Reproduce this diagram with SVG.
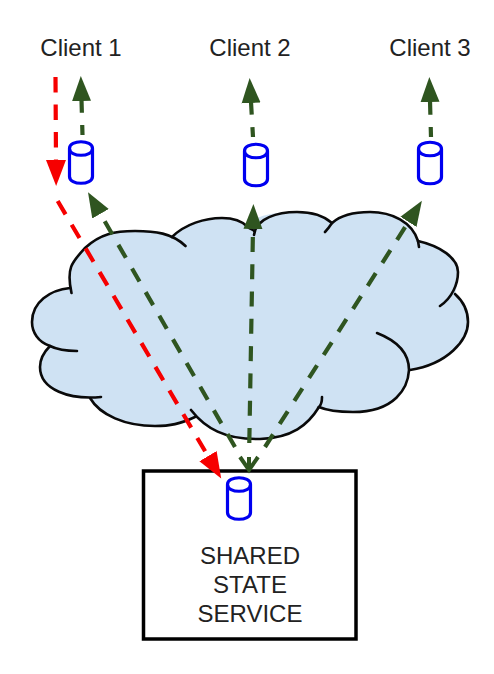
<svg xmlns="http://www.w3.org/2000/svg" width="494" height="674" viewBox="0 0 494 674">
<style>
text{font-family:"Liberation Sans",Arial,sans-serif;font-size:24px;fill:#222;text-anchor:middle}
.lobe{fill:none;stroke:#0a0a0a;stroke-width:2.6;stroke-linecap:round}
.cyl{fill:#fff;stroke:#0000f0;stroke-width:3.2}
.g{fill:none;stroke:#2f5520;stroke-width:4.2;stroke-dasharray:15 12.300}
.r{fill:none;stroke:#f60000;stroke-width:4.2;stroke-dasharray:15.500 12}
</style>
<defs>
<marker id="gh" markerUnits="userSpaceOnUse" markerWidth="30" markerHeight="24" refX="1" refY="12" orient="auto"><path d="M0 2.500L25 12L0 21.500Z" fill="#2f5520"/></marker>
<marker id="rh" markerUnits="userSpaceOnUse" markerWidth="30" markerHeight="24" refX="1" refY="12" orient="auto"><path d="M0 2L26 12L0 22Z" fill="#f60000"/></marker>
<path id="can" d="M-11.500 -14V14C-11.500 23 11.500 23 11.500 14V-14M-11.500 -14C-11.500 -23 11.500 -23 11.500 -14C11.500 -5 -11.500 -5 -11.500 -14Z"/>
</defs>
<g id="cloud">
<path fill="#cfe2f3" d="M70 288C68 268 72 262 85 248C100 234 115 231 135 231C150 231 162 232 172 237C185 224 205 218 222 218C232 218 240 220 247 226C256 214 278 212 297 212C312 212 324 216 332 223C342 214 356 212 370 212C392 212 412 222 418 241C440 246 458 258 458 272C458 284 456 290 455 294C464 302 468 310 468 322C468 340 448 364 410 370C408 388 395 412 353 412C338 412 328 411 319 407C308 425 292 438 260 439C225 440 205 428 195 417C180 424 170 426 155 426C125 426 100 415 90 398C70 400 40 390 40 367C40 358 44 352 50 346C38 342 32 332 32 322C32 302 50 290 70 288Z"/>
<path class="lobe" d="M71.500 293C66 268 72 262 85 248C100 234 115 231 135 231C155 231 172 233 185.500 246"/>
<path class="lobe" d="M172 237C185 224 205 218 222 218C234 218 242 221 248 227C250 229 254 230 254 231"/>
<path class="lobe" d="M254 235C256 218 278 212 297 212C312 212 324 216 332 223C330 226 327 230 325 232"/>
<path class="lobe" d="M332 223C342 214 356 212 370 212C392 212 412 222 418 241L419 247"/>
<path class="lobe" d="M418 241C440 246 458 258 458 272C458 284 452 298 440 306"/>
<path class="lobe" d="M455 294C464 302 468 310 468 322C468 340 448 364 410 370"/>
<path class="lobe" d="M377 333C395 340 409 352 409 370C408 388 395 412 353 412C338 412 328 411 319 407C322 404 322 400 322 397"/>
<path class="lobe" d="M319 407C308 425 292 438 260 439C225 440 205 428 191 410"/>
<path class="lobe" d="M195 417C180 424 170 426 155 426C125 426 100 415 90 398"/>
<path class="lobe" d="M101 397C70 400 40 390 40 367C40 358 44 352 50 346C58 350 68 351 77 351"/>
<path class="lobe" d="M50 346C38 342 32 332 32 322C32 302 50 290 70 288"/>
</g>
<g id="client-1"><text x="81" y="56">Client 1</text><use href="#can" class="cyl" transform="translate(81 162.500)"/></g>
<g id="client-2"><text x="250" y="56">Client 2</text><use href="#can" class="cyl" transform="translate(256 165)"/></g>
<g id="client-3"><text x="430" y="56">Client 3</text><use href="#can" class="cyl" transform="translate(430 163)"/></g>
<g id="shared-state-service">
<rect x="143.500" y="471" width="212.500" height="168" fill="#fff" stroke="#000" stroke-width="3.500"/>
<use href="#can" class="cyl" transform="translate(239 498.500)"/>
<text x="250" y="564">SHARED</text><text x="250" y="593">STATE</text><text x="250" y="622">SERVICE</text>
</g>
<g id="connectors">
<line class="r" x1="55.500" y1="77" x2="56" y2="161" marker-end="url(#rh)"/>
<line class="r" x1="57.700" y1="201" x2="208.500" y2="457" marker-end="url(#rh)"/>
<line class="g" style="stroke-dashoffset:5" x1="82.500" y1="135" x2="81.500" y2="100" marker-end="url(#gh)"/>
<line class="g" style="stroke-dashoffset:5" x1="253" y1="137" x2="251" y2="102" marker-end="url(#gh)"/>
<line class="g" style="stroke-dashoffset:5" x1="431" y1="137" x2="430" y2="101" marker-end="url(#gh)"/>
<line class="g" x1="235" y1="447" x2="100" y2="213" marker-end="url(#gh)"/>
<line class="g" x1="249.300" y1="443" x2="253" y2="228" marker-end="url(#gh)"/>
<line class="g" x1="265" y1="447" x2="409" y2="221" marker-end="url(#gh)"/>
<path d="M240 457L249 470L258 457M249 457V470" fill="none" stroke="#2f5520" stroke-width="4"/>
</g>
</svg>
